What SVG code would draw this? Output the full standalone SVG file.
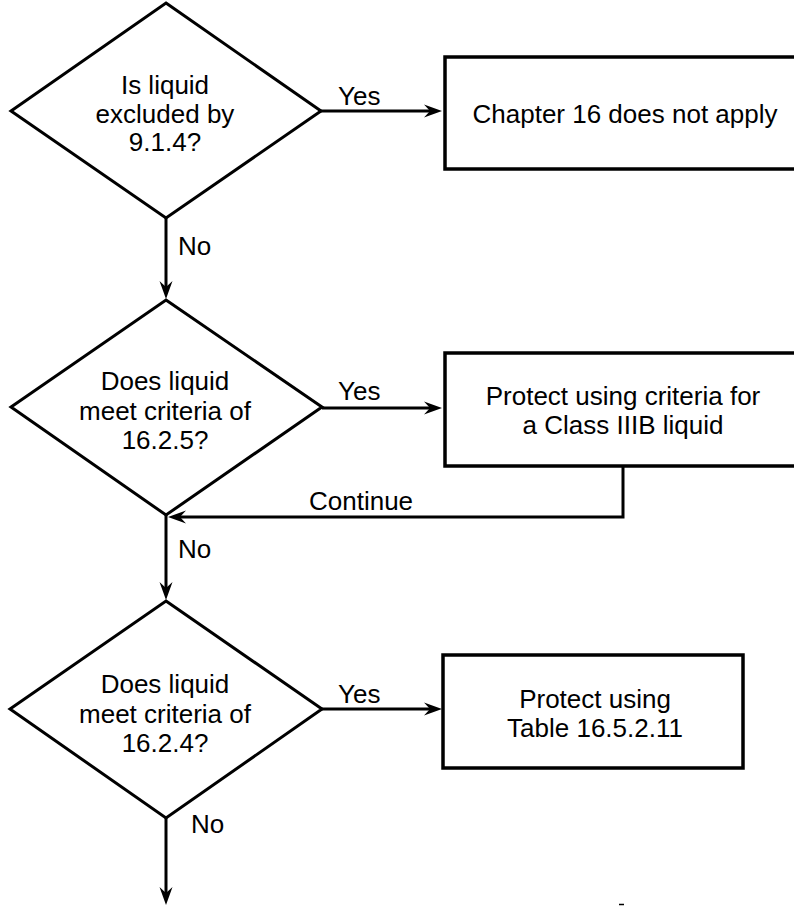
<svg xmlns="http://www.w3.org/2000/svg" width="794" height="908" viewBox="0 0 794 908">
  <style>
    .dia { fill: #fff; stroke: #000; stroke-width: 3; stroke-linejoin: miter; }
    .box { fill: #fff; stroke: #000; stroke-width: 3.5; }
    .txt { font-family: "Liberation Sans", Arial, sans-serif; font-size: 26px; fill: #000; text-anchor: middle; }
    .lbl { font-family: "Liberation Sans", Arial, sans-serif; font-size: 26px; fill: #000; }
    .con { fill: none; stroke: #000; stroke-width: 3; }
  </style>
  <defs>
    <marker id="arr" viewBox="0 0 18 14" refX="8" refY="7" markerWidth="18" markerHeight="14" markerUnits="userSpaceOnUse" orient="auto">
      <path d="M0,0.5 L18,7 L0,13.5 L6,7 z" fill="#000"/>
    </marker>
  </defs>
  <rect width="794" height="908" fill="#fff"/>

  <g id="connectors">
    <path class="con" d="M321,111 H432" marker-end="url(#arr)"/>
    <path class="con" d="M166,218 V289" marker-end="url(#arr)"/>
    <path class="con" d="M322,408 H432" marker-end="url(#arr)"/>
    <path class="con" d="M623,466 V517 H178" marker-end="url(#arr)"/>
    <path class="con" d="M166,515 V590" marker-end="url(#arr)"/>
    <path class="con" d="M322,709 H432" marker-end="url(#arr)"/>
    <path class="con" d="M166,818 V895" marker-end="url(#arr)"/>
    <text class="lbl" x="338" y="105">Yes</text>
    <text class="lbl" x="178" y="255">No</text>
    <text class="lbl" x="338" y="400">Yes</text>
    <text class="lbl" x="309" y="510">Continue</text>
    <text class="lbl" x="178" y="558">No</text>
    <text class="lbl" x="338" y="703">Yes</text>
    <text class="lbl" x="191" y="833">No</text>
  </g>

  <g id="q1">
    <polygon class="dia" points="166,3 321,111 166,218 11,111"/>
    <text class="txt" x="165" y="94">Is liquid</text>
    <text class="txt" x="165" y="123">excluded by</text>
    <text class="txt" x="165" y="151">9.1.4?</text>
  </g>

  <g id="r1">
    <rect class="box" x="445" y="57" width="400" height="112"/>
    <text class="txt" x="625" y="123">Chapter 16 does not apply</text>
  </g>

  <g id="q2">
    <polygon class="dia" points="166,300 322,407 166,515 11,407"/>
    <text class="txt" x="165" y="390">Does liquid</text>
    <text class="txt" x="165" y="420">meet criteria of</text>
    <text class="txt" x="165" y="449">16.2.5?</text>
  </g>

  <g id="r2">
    <rect class="box" x="445" y="353" width="400" height="113"/>
    <text class="txt" x="623" y="405">Protect using criteria for</text>
    <text class="txt" x="623" y="434">a Class IIIB liquid</text>
  </g>

  <g id="q3">
    <polygon class="dia" points="166,601 322,709 166,818 10,709"/>
    <text class="txt" x="165" y="693">Does liquid</text>
    <text class="txt" x="165" y="723">meet criteria of</text>
    <text class="txt" x="165" y="752">16.2.4?</text>
  </g>

  <g id="r3">
    <rect class="box" x="443" y="655" width="300" height="113"/>
    <text class="txt" x="595" y="708">Protect using</text>
    <text class="txt" x="595" y="737">Table 16.5.2.11</text>
  </g>

  <path d="M619,904.5 H624" stroke="#000" stroke-width="1.5"/>
</svg>
